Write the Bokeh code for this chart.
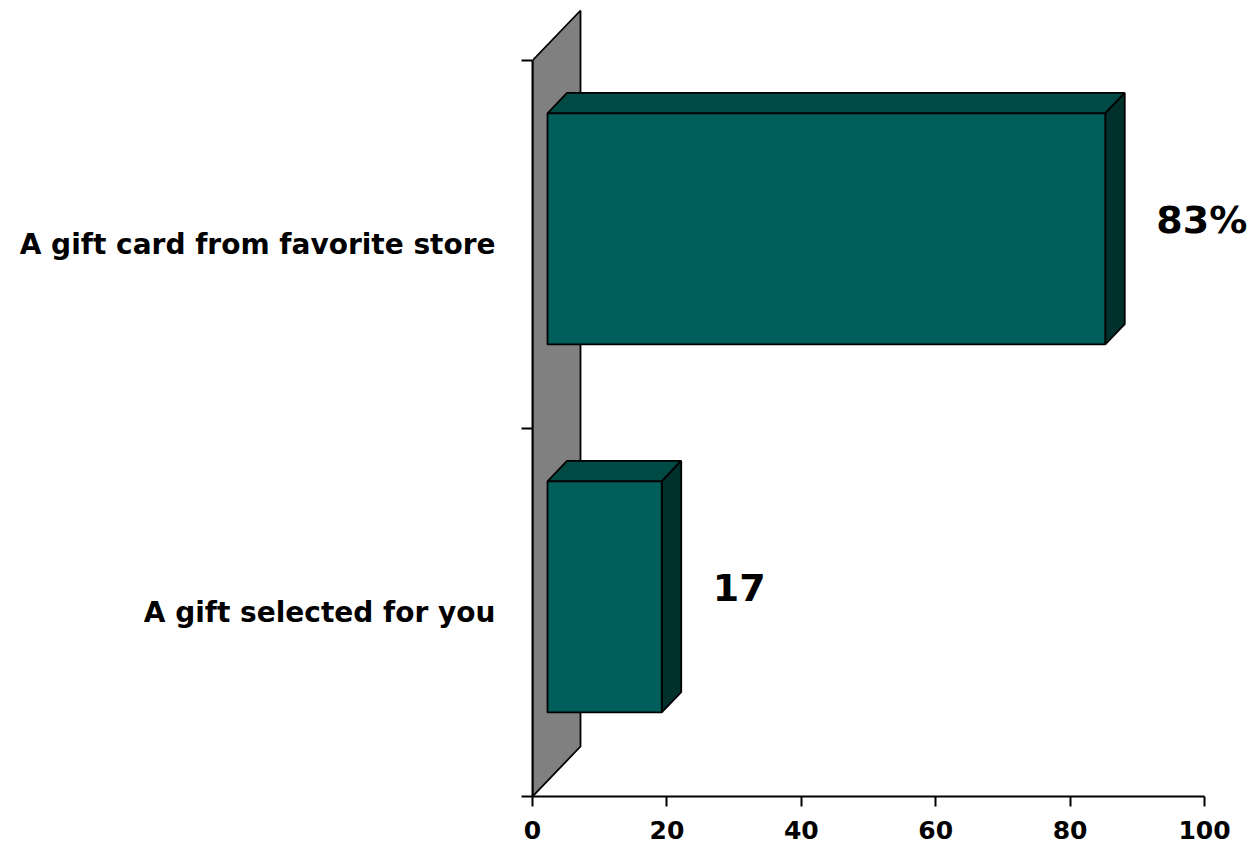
from bokeh.plotting import figure
from bokeh.models import Range1d, FixedTicker, ColumnDataSource
from bokeh.embed import file_html
from bokeh.resources import INLINE
from bokeh.core.properties import value

# ---- data ----
categories = ["A gift selected for you", "A gift card from favorite store"]
values = [17, 83]
value_labels = ["17", "83%"]
x_ticks = [0, 20, 40, 60, 80, 100]

# ---- layout constants (pixels) ----
W, H = 1256, 847
LEFT, BOTTOM = 532, 51
PX_X = 6.72          # px per x unit
PX_Y = 368.0         # px per category unit
FRAME_W = W - LEFT
FRAME_H = H - BOTTOM

WALL_DX, WALL_DY = 48 / PX_X, 50 / PX_Y
FRONT_DX, FRONT_DY = 15 / PX_X, 15.6 / PX_Y
BACK_DX, BACK_DY = 34.5 / PX_X, 36 / PX_Y
BAR_H = 0.628

FONT = "DejaVu Sans"

p = figure(width=W, height=H, output_backend="svg", toolbar_location=None,
           x_range=Range1d(0, FRAME_W / PX_X), y_range=Range1d(0, FRAME_H / PX_Y),
           min_border_left=LEFT, min_border_right=0, min_border_top=0,
           min_border_bottom=BOTTOM)
p.xgrid.visible = False
p.ygrid.visible = False
p.outline_line_color = None
p.background_fill_color = "white"
p.border_fill_color = "white"

n = len(categories)

# back wall
p.patch([0, 0, WALL_DX, WALL_DX], [0, n, n + WALL_DY, WALL_DY],
        fill_color="#808080", line_color="black", line_width=1.8)

# bars
fx, fy, tx, ty, sx, sy = [], [], [], [], [], []
for i, v in enumerate(values):
    c = i + 0.5
    y0, y1 = c - BAR_H / 2, c + BAR_H / 2
    fx.append([FRONT_DX, FRONT_DX + v, FRONT_DX + v, FRONT_DX])
    fy.append([y0 + FRONT_DY, y0 + FRONT_DY, y1 + FRONT_DY, y1 + FRONT_DY])
    tx.append([FRONT_DX, FRONT_DX + v, BACK_DX + v, BACK_DX])
    ty.append([y1 + FRONT_DY, y1 + FRONT_DY, y1 + BACK_DY, y1 + BACK_DY])
    sx.append([FRONT_DX + v, FRONT_DX + v, BACK_DX + v, BACK_DX + v])
    sy.append([y0 + FRONT_DY, y1 + FRONT_DY, y1 + BACK_DY, y0 + BACK_DY])

p.patches(tx, ty, fill_color="#004A45", line_color="black", line_width=1.8)
p.patches(sx, sy, fill_color="#00312D", line_color="black", line_width=1.8)
p.patches(fx, fy, fill_color="#005F5A", line_color="black", line_width=1.8)

# value labels
src = ColumnDataSource(dict(x=values, y=[i + 0.5 for i in range(n)], t=value_labels))
p.text(x="x", y="y", text="t", source=src, x_offset=66, y_offset=-25,
       text_font=value(FONT), text_font_style="bold", text_font_size="38px",
       text_color="black", text_align="left", text_baseline="middle")

# x axis
xa = p.xaxis[0]
xa.ticker = FixedTicker(ticks=x_ticks, minor_ticks=[])
xa.bounds = (0, 100)
xa.axis_line_color = "black"
xa.axis_line_width = 2
xa.major_tick_line_color = "black"
xa.major_tick_line_width = 2
xa.major_tick_out = 10
xa.major_tick_in = 0
xa.minor_tick_line_color = None
xa.major_label_standoff = 14
xa.major_label_text_font = FONT
xa.major_label_text_font_style = "bold"
xa.major_label_text_font_size = "25px"
xa.major_label_text_color = "black"

# y axis
ya = p.yaxis[0]
ya.ticker = FixedTicker(ticks=[i + 0.5 for i in range(n)], minor_ticks=list(range(n + 1)))
ya.major_label_overrides = {i + 0.5: c for i, c in enumerate(categories)}
ya.bounds = (0, n)
ya.axis_line_color = "black"
ya.axis_line_width = 2
ya.major_tick_line_color = None
ya.major_tick_out = 0
ya.major_tick_in = 0
ya.minor_tick_line_color = "black"
ya.minor_tick_line_width = 2
ya.minor_tick_out = 11
ya.minor_tick_in = 0
ya.major_label_standoff = 26
ya.major_label_text_font = FONT
ya.major_label_text_font_style = "bold"
ya.major_label_text_font_size = "28px"
ya.major_label_text_color = "black"

open("out.html", "w").write(file_html(p, INLINE))
